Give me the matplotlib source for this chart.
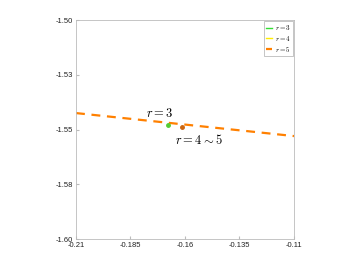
import matplotlib
matplotlib.use("Agg")
import matplotlib.pyplot as plt

plt.rcParams['mathtext.fontset'] = 'cm'
plt.rcParams['font.family'] = ['Liberation Sans', 'DejaVu Sans']

x_line = [-0.21, -0.11]
y_line = [-1.5425, -1.553]
pt_r3 = (-0.168, -1.548)
pt_r45 = (-0.1615, -1.5487)
xticks = [-0.21, -0.185, -0.16, -0.135, -0.11]
xticklabels = ['-0.21', '-0.185', '-0.16', '-0.135', '-0.11']
yticks = [-1.60, -1.575, -1.55, -1.525, -1.50]
yticklabels = ['-1.60', '-1.58', '-1.55', '-1.53', '-1.50']

fig = plt.figure(figsize=(3.59, 2.69), dpi=100)
ax = fig.add_axes([76/359, 1-239/269, 218/359, 219/269])

ax.plot([], [], color='#33dd33', lw=1.0, label='$r=3$')
ax.plot([], [], color='#ffee00', lw=1.0, label='$r=4$')
ax.plot(x_line, y_line, color='#ff8000', lw=1.6, ls=(0, (4, 3)), label='$r=5$')
ax.plot(*pt_r3, 'o', color='#55cc33', ms=2.5, zorder=5)
ax.plot(*pt_r45, 'o', color='#cc6611', ms=2.5, zorder=5)

ax.text(-0.1717, -1.5425, '$r=3$', fontsize=9, ha='center', va='center')
ax.text(-0.1536, -1.5548, r'$r=4\sim5$', fontsize=9, ha='center', va='center')

ax.set_xlim(-0.21, -0.11)
ax.set_ylim(-1.60, -1.50)
ax.set_xticks(xticks)
ax.set_xticklabels(xticklabels)
ax.set_yticks(yticks)
ax.set_yticklabels(yticklabels)
ax.tick_params(direction='in', length=2, labelsize=5.5, colors='#bbbbbb', labelcolor='#222222', pad=2)
for s in ax.spines.values():
    s.set_color('#bbbbbb')
    s.set_linewidth(0.6)

leg = ax.legend(loc='upper right', fontsize=5, handlelength=0.8, handletextpad=0.4,
                borderpad=0.3, labelspacing=0.25, fancybox=False, framealpha=1,
                borderaxespad=0.15)
leg.get_frame().set_edgecolor('#bbbbbb')
leg.get_frame().set_linewidth(0.6)

fig.savefig('out.png', dpi=100)
